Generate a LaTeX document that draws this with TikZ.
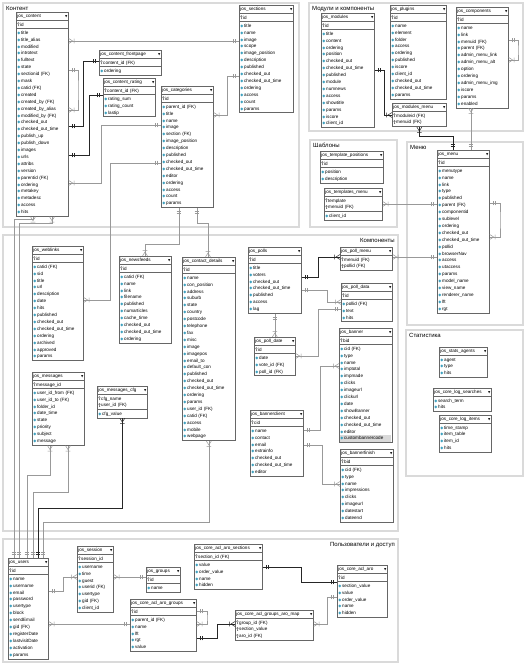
\documentclass[tikz,border=0pt]{standalone}
\usepackage{fontspec}
\setmainfont{Liberation Sans}
\newfontfamily\symf{DejaVu Sans}
\usetikzlibrary{shapes.multipart,decorations.markings}
\definecolor{attc}{RGB}{60,160,190}
\definecolor{grpc}{RGB}{218,218,218}
\newcommand\tblfont{\fontsize{4.6}{6.9}\selectfont}
\newcommand\tbh[1]{#1\strut\hfill{\symf\fontsize{3}{6.9}\selectfont\char"25BC}}
\newcommand\keyic{\tikz[baseline=0pt,x=1pt,y=1pt]{\draw[black!60,line width=0.4pt] (0.9,2.7) circle (0.85) (0.9,1.85)--(0.9,0) (0.9,0.5)--(1.7,0.5);}}
\newcommand\attic{{\symf\fontsize{4}{6.9}\selectfont\color{attc}\char"25C6}}
\newcommand\pks[1]{\foreach \fld [count=\i] in {#1}{\ifnum\i>1 \newline\fi\keyic\,\fld\strut}}
\newcommand\atts[1]{\foreach \fld [count=\i] in {#1}{\ifnum\i>1 \newline\fi\attic\,\fld\strut}}
\newcommand\hlrow[1]{\rlap{\color{black!15}\rule[-2.07pt]{\hsize}{6.9pt}}\attic\,#1\strut}

\begin{document}
\begin{tikzpicture}[x=1pt, y=-1pt,
  tbl/.style={rectangle split, rectangle split parts=3, draw=black!60, line width=0.7pt, fill=white,
    anchor=north west, inner xsep=1pt, inner ysep=0.3pt, align=left, font=\tblfont},
  grp/.style={draw=grpc, line width=1.3pt},
  grplbl/.style={font=\fontsize{6}{7}\selectfont, inner sep=1pt},
  rel/.style={color=black!40, line width=0.6pt},
  reld/.style={color=black!85, line width=0.6pt},
  one start/.style={postaction={decorate, decoration={markings, mark=at position 0 with
    {\draw[line width=0.5pt] (3.5pt,-2.3pt)--(3.5pt,2.3pt) (5.5pt,-2.3pt)--(5.5pt,2.3pt);}}}},
  one end/.style={postaction={decorate, decoration={markings, mark=at position 1 with
    {\draw[line width=0.5pt] (-3.5pt,-2.3pt)--(-3.5pt,2.3pt) (-5.5pt,-2.3pt)--(-5.5pt,2.3pt);}}}},
  many start/.style={postaction={decorate, decoration={markings, mark=at position 0 with
    {\draw[line width=0.5pt] (0,-2.5pt)--(4pt,0)--(0,2.5pt) (5.5pt,-2.3pt)--(5.5pt,2.3pt);}}}},
  many end/.style={postaction={decorate, decoration={markings, mark=at position 1 with
    {\draw[line width=0.5pt] (0,-2.5pt)--(-4pt,0)--(0,2.5pt) (-5.5pt,-2.3pt)--(-5.5pt,2.3pt);}}}}]
\useasboundingbox[fill=white] (0,0) rectangle (526,667);
% Groups
\draw[grp] (3,3) rectangle (299,227);
\draw[grp] (309,3) rectangle (523,131);
\draw[grp] (310,140) rectangle (397,227);
\draw[grp] (407,142) rectangle (523,325);
\draw[grp] (3,235) rectangle (398,531);
\draw[grp] (406,330) rectangle (523,476);
\draw[grp] (3,539) rectangle (398,662);
\node[grplbl, anchor=north west] (lcontent) at (5,5) {Контент};
\node[grplbl, anchor=north west] (lmodules) at (311,5) {Модули и компоненты};
\node[grplbl, anchor=north west] (ltemplates) at (312,142) {Шаблоны};
\node[grplbl, anchor=north west] (lmenu) at (409,144) {Меню};
\node[grplbl, anchor=north east] (lcomp) at (396,237) {Компоненты};
\node[grplbl, anchor=north west] (lstats) at (408,332) {Статистика};
\node[grplbl, anchor=north east] (lusers) at (396,541) {Пользователи и доступ};
% Content
\node[tbl, text width=50pt] (content) at (16,12) {\tbh{jos\_content}\nodepart{two}\pks{id}\nodepart{three}\atts{title, title\_alias, modified, introtext, fulltext, state, sectionid (FK), mask, catid (FK), created, created\_by (FK), created\_by\_alias, modified\_by (FK), checked\_out, checked\_out\_time, publish\_up, publish\_down, images, urls, attribs, version, parentid (FK), ordering, metakey, metadesc, access, hits}};
\node[tbl, text width=60pt] (frontpage) at (99,50) {\tbh{jos\_content\_frontpage}\nodepart{two}\pks{content\_id (FK)}\nodepart{three}\atts{ordering}};
\node[tbl, text width=50pt] (rating) at (103,78) {\tbh{jos\_content\_rating}\nodepart{two}\pks{content\_id (FK)}\nodepart{three}\atts{rating\_sum, rating\_count, lastip}};
\node[tbl, text width=50pt] (categories) at (161,86) {\tbh{jos\_categories}\nodepart{two}\pks{id}\nodepart{three}\atts{parent\_id (FK), title, name, image, section (FK), image\_position, description, published, checked\_out, checked\_out\_time, editor, ordering, access, count, params}};
\node[tbl, text width=52pt] (sections) at (239,5) {\tbh{jos\_sections}\nodepart{two}\pks{id}\nodepart{three}\atts{title, name, image, scope, image\_position, description, published, checked\_out, checked\_out\_time, ordering, access, count, params}};
% Modules and components
\node[tbl, text width=51pt] (modules) at (321,13) {\tbh{jos\_modules}\nodepart{two}\pks{id}\nodepart{three}\atts{title, content, ordering, position, checked\_out, checked\_out\_time, published, module, numnews, access, showtitle, params, iscore, client\_id}};
\node[tbl, text width=54pt] (plugins) at (390,5) {\tbh{jos\_plugins}\nodepart{two}\pks{id}\nodepart{three}\atts{name, element, folder, access, ordering, published, iscore, client\_id, checked\_out, checked\_out\_time, params}};
\node[tbl, text width=50pt] (components) at (456,7) {\tbh{jos\_components}\nodepart{two}\pks{id}\nodepart{three}\atts{name, link, menuid (FK), parent (FK), admin\_menu\_link, admin\_menu\_alt, option, ordering, admin\_menu\_img, iscore, params, enabled}};
\node[tbl, rectangle split parts=2, text width=52pt] (modmenu) at (392,103) {\tbh{jos\_modules\_menu}\nodepart{two}\pks{moduleid (FK), menuid (FK)}};
% Templates
\node[tbl, text width=61pt] (tplpos) at (320,151) {\tbh{jos\_template\_positions}\nodepart{two}\pks{id}\nodepart{three}\atts{position, description}};
\node[tbl, text width=56pt] (tplmenu) at (324,188) {\tbh{jos\_templates\_menu}\nodepart{two}\pks{template, menuid (FK)}\nodepart{three}\atts{client\_id}};
% Menu
\node[tbl, text width=50pt] (menu) at (437,150) {\tbh{jos\_menu}\nodepart{two}\pks{id}\nodepart{three}\atts{menutype, name, link, type, published, parent (FK), componentid, sublevel, ordering, checked\_out, checked\_out\_time, pollid, browserNav, access, utaccess, params, model\_name, view\_name, renderer\_name, lft, rgt}};
% Components
\node[tbl, text width=49pt] (weblinks) at (32,246) {\tbh{jos\_weblinks}\nodepart{two}\pks{id}\nodepart{three}\atts{catid (FK), sid, title, url, description, date, hits, published, checked\_out, checked\_out\_time, ordering, archived, approved, params}};
\node[tbl, text width=50pt] (newsfeeds) at (119,256) {\tbh{jos\_newsfeeds}\nodepart{two}\pks{id}\nodepart{three}\atts{catid (FK), name, link, filename, published, numarticles, cache\_time, checked\_out, checked\_out\_time, ordering}};
\node[tbl, text width=51pt] (contact) at (182,257) {\tbh{jos\_contact\_details}\nodepart{two}\pks{id}\nodepart{three}\atts{name, con\_position, address, suburb, state, country, postcode, telephone, fax, misc, image, imagepos, email\_to, default\_con, published, checked\_out, checked\_out\_time, ordering, params, user\_id (FK), catid (FK), access, mobile, webpage}};
\node[tbl, text width=50pt] (messages) at (32,372) {\tbh{jos\_messages}\nodepart{two}\pks{message\_id}\nodepart{three}\atts{user\_id\_from (FK), user\_id\_to (FK), folder\_id, date\_time, state, priority, subject, message}};
\node[tbl, text width=48pt] (msgcfg) at (97,386) {\tbh{jos\_messages\_cfg}\nodepart{two}\pks{cfg\_name, user\_id (FK)}\nodepart{three}\atts{cfg\_value}};
\node[tbl, text width=51pt] (polls) at (248,247) {\tbh{jos\_polls}\nodepart{two}\pks{id}\nodepart{three}\atts{title, voters, checked\_out, checked\_out\_time, published, access, lag}};
\node[tbl, rectangle split parts=2, text width=50pt] (pollmenu) at (340,247) {\tbh{jos\_poll\_menu}\nodepart{two}\pks{menuid (FK), pollid (FK)}};
\node[tbl, text width=49pt] (polldata) at (341,283) {\tbh{jos\_poll\_data}\nodepart{two}\pks{id}\nodepart{three}\atts{pollid (FK), text, hits}};
\node[tbl, text width=39pt] (polldate) at (254,337) {\tbh{jos\_poll\_date}\nodepart{two}\pks{id}\nodepart{three}\atts{date, vote\_id (FK), poll\_id (FK)}};
\node[tbl, text width=51pt] (banner) at (339,328) {\tbh{jos\_banner}\nodepart{two}\pks{bid}\nodepart{three}\atts{cid (FK), type, name, imptotal, impmade, clicks, imageurl, clickurl, date, showBanner, checked\_out, checked\_out\_time, editor}\newline\hlrow{custombannercode}};
\node[tbl, text width=51pt] (bannerclient) at (250,410) {\tbh{jos\_bannerclient}\nodepart{two}\pks{cid}\nodepart{three}\atts{name, contact, email, extrainfo, checked\_out, checked\_out\_time, editor}};
\node[tbl, text width=51pt] (bannerfinish) at (340,449) {\tbh{jos\_bannerfinish}\nodepart{two}\pks{bid}\nodepart{three}\atts{cid (FK), type, name, impressions, clicks, imageurl, datestart, dateend}};
% Statistics
\node[tbl, rectangle split parts=2, text width=46pt] (agents) at (439,347) {\tbh{jos\_stats\_agents}\nodepart{two}\atts{agent, type, hits}};
\node[tbl, rectangle split parts=2, text width=56pt] (logsearch) at (433,388) {\tbh{jos\_core\_log\_searches}\nodepart{two}\atts{search\_term, hits}};
\node[tbl, rectangle split parts=2, text width=50pt] (logitems) at (439,415) {\tbh{jos\_core\_log\_items}\nodepart{two}\atts{time\_stamp, item\_table, item\_id, hits}};
% Users and access
\node[tbl, text width=38pt] (users) at (8,558) {\tbh{jos\_users}\nodepart{two}\pks{id}\nodepart{three}\atts{name, username, email, password, usertype, block, sendEmail, gid (FK), registerDate, lastvisitDate, activation, params}};
\node[tbl, text width=34pt] (session) at (77,546) {\tbh{jos\_session}\nodepart{two}\pks{session\_id}\nodepart{three}\atts{username, time, guest, userid (FK), usertype, gid (FK), client\_id}};
\node[tbl, text width=32pt] (groups) at (146,567) {\tbh{jos\_groups}\nodepart{two}\pks{id}\nodepart{three}\atts{name}};
\node[tbl, text width=66pt] (arosec) at (194,544) {\tbh{jos\_core\_acl\_aro\_sections}\nodepart{two}\pks{section\_id (FK)}\nodepart{three}\atts{value, order\_value, name, hidden}};
\node[tbl, text width=64pt] (arogroups) at (130,599) {\tbh{jos\_core\_acl\_aro\_groups}\nodepart{two}\pks{id}\nodepart{three}\atts{parent\_id (FK), name, lft, rgt, value}};
\node[tbl, rectangle split parts=2, text width=76pt] (aromap) at (235,610) {\tbh{jos\_core\_acl\_groups\_aro\_map}\nodepart{two}\pks{group\_id (FK), section\_value, aro\_id (FK)}};
\node[tbl, text width=48pt] (aro) at (337,565) {\tbh{jos\_core\_acl\_aro}\nodepart{two}\pks{id}\nodepart{three}\atts{section\_value, value, order\_value, name, hidden}};
% Relations: content
\draw[rel, many start, one end] (content.east |- 0,41) -- (sections.west |- 0,41);
\draw[rel, one start, many end] (content.east |- 0,70) -| (78,90) |- (content.east |- 0,110);
\draw[reld, one start, one end] (content.east |- 0,126) -| (83,61) -- (frontpage.west |- 0,61);
\draw[reld, one start, one end] (content.east |- 0,155) -| (89,95) -- (rating.west |- 0,95);
\draw[rel, many start, one end] (content.east |- 0,183) -| (101,125) -- (categories.west |- 0,125);
\draw[rel, many start, one end] (categories.east |- 0,115) -| (227,76) -- (sections.west |- 0,76);
\draw[rel, one start, many end] (categories.west |- 0,163) -| (110,300) -- (weblinks.east |- 0,300);
\draw[rel, one start, many end] (categories.south -| 179,0) |- (145,244) -- (newsfeeds.north -| 145,0);
\draw[rel, one start, many end] (categories.south -| 197,0) |- (208,223) -- (contact.north -| 208,0);
% Relations: users
\draw[rel, many start, one end] (content.south -| 33,0) |- (14,219) -- (users.north -| 14,0);
\draw[rel, many start, one end] (content.south -| 52,0) |- (19,223) -- (users.north -| 19,0);
\draw[rel, many start, one end] (messages.south -| 50,0) |- (27,475) -- (users.north -| 27,0);
\draw[rel, many start, one end] (messages.south -| 68,0) |- (33,492) -- (users.north -| 33,0);
\draw[reld, many start, one end] (msgcfg.south) |- (38,508) -- (users.north -| 38,0);
\draw[rel, many start, one end] (contact.south) |- (43,522) -- (users.north -| 43,0);
\draw[rel, one start, many end] (users.east |- 0,591) -| (63,577) -- (session.west |- 0,577);
\draw[rel, many start, one end] (session.east |- 0,577) -- (groups.west |- 0,577);
\draw[rel, many start, one end] (users.east |- 0,624) -- (arogroups.west |- 0,624);
\draw[rel, one start, many end] (arogroups.east |- 0,611) -| (207,618) |- (arogroups.east |- 0,624);
\draw[reld, one start, many end] (arogroups.east |- 0,638) -| (217,624) -- (aromap.west |- 0,624);
\draw[reld, one start, one end] (arosec.east |- 0,567) -| (301,582) -- (aro.west |- 0,582);
\draw[rel, many start, one end] (aromap.east |- 0,624) -| (327,597) -- (aro.west |- 0,597);
% Relations: components
\draw[reld, one start, many end] (polls.east |- 0,277) -| (318,257) -- (pollmenu.west |- 0,257);
\draw[rel, many start, one end] (pollmenu.east |- 0,257) -- (menu.west |- 0,257);
\draw[rel, one start, many end] (polls.east |- 0,290) -| (327,302) -- (polldata.west |- 0,302);
\draw[rel, one start, many end] (polls.south) -- (polldate.north);
\draw[rel, many start, one end] (polldate.east |- 0,356) -| (318,309) -- (polldata.west |- 0,309);
\draw[rel, one start, many end] (bannerclient.east |- 0,430) -| (320,366) -- (banner.west |- 0,366);
\draw[rel, one start, many end] (bannerclient.east |- 0,445) -| (322,484) -- (bannerfinish.west |- 0,484);
% Relations: menu, modules
\draw[rel, one start, many end] (menu.east |- 0,203) -| (500,220) |- (menu.east |- 0,237);
\draw[rel, many start, one end] (tplmenu.east |- 0,204) -- (menu.west |- 0,204);
\draw[reld, one start, many end] (modules.east |- 0,70) -| (384,115) -- (modmenu.west |- 0,115);
\draw[reld, many start, one end] (modmenu.south) |- (453,136) -- (menu.north -| 453,0);
\draw[rel, many start, one end] (components.south -| 471,0) -- (menu.north -| 471,0);
\draw[rel, one start, many end] (components.east |- 0,40) -| (518,50) |- (components.east |- 0,60);
\end{tikzpicture}
\end{document}
